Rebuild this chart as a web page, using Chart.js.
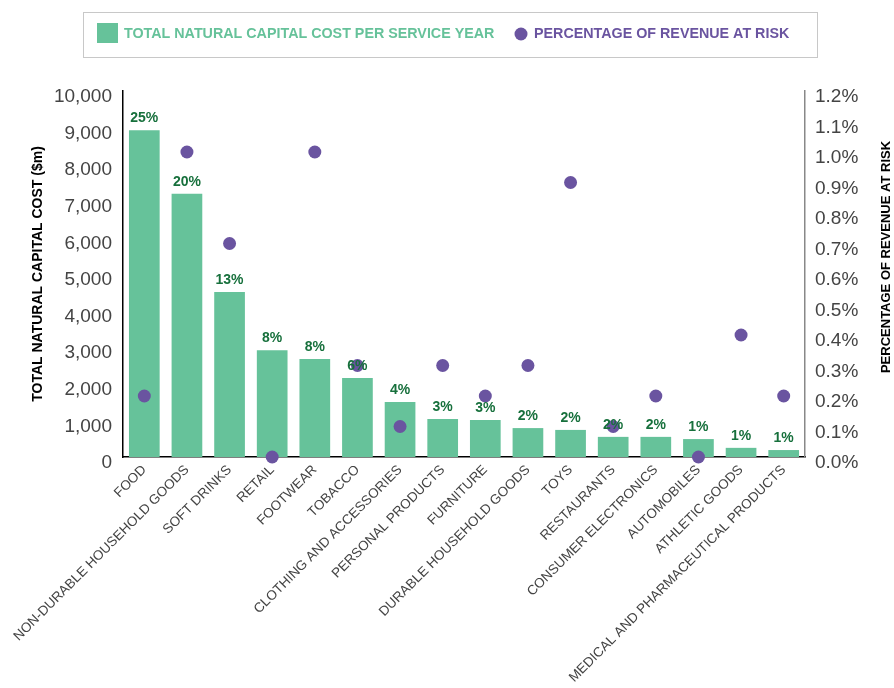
<!DOCTYPE html>
<html>
<head>
<meta charset="utf-8">
<script src="https://cdn.jsdelivr.net/npm/chart.js@4.4.1/dist/chart.umd.min.js"></script>
<style>
  html, body { margin: 0; padding: 0; background: #fff; }
  #wrap { width: 894px; height: 688px; }
</style>
</head>
<body>
<div id="wrap"><canvas id="chart" width="894" height="688"></canvas></div>
<script>
const categories = [
  'FOOD', 'NON-DURABLE HOUSEHOLD GOODS', 'SOFT DRINKS', 'RETAIL', 'FOOTWEAR',
  'TOBACCO', 'CLOTHING AND ACCESSORIES', 'PERSONAL PRODUCTS', 'FURNITURE',
  'DURABLE HOUSEHOLD GOODS', 'TOYS', 'RESTAURANTS', 'CONSUMER ELECTRONICS',
  'AUTOMOBILES', 'ATHLETIC GOODS', 'MEDICAL AND PHARMACEUTICAL PRODUCTS'
];
const naturalCapitalCost = [8930, 7190, 4510, 2920, 2680, 2160, 1500, 1040, 1010, 790, 740, 550, 550, 490, 250, 190];
const costShare = ['25%', '20%', '13%', '8%', '8%', '6%', '4%', '3%', '3%', '2%', '2%', '2%', '2%', '1%', '1%', '1%'];
const revenueAtRisk = [0.2, 1.0, 0.7, 0.0, 1.0, 0.3, 0.1, 0.3, 0.2, 0.3, 0.9, 0.1, 0.2, 0.0, 0.4, 0.2];

const seriesNames = ['TOTAL NATURAL CAPITAL COST PER SERVICE YEAR', 'PERCENTAGE OF REVENUE AT RISK'];
const leftTitle = 'TOTAL NATURAL CAPITAL COST ($m)';
const rightTitle = 'PERCENTAGE OF REVENUE AT RISK';

const GREEN = '#66c29a';
const PURPLE = '#6a54a0';
const LABEL_GREEN = '#17703c';
const FONT = '"Liberation Sans", Arial, Helvetica, sans-serif';

// percentage labels above the bars
const barLabels = {
  id: 'barLabels',
  afterDatasetsDraw(chart) {
    const ctx = chart.ctx;
    const meta = chart.getDatasetMeta(0);
    ctx.save();
    ctx.font = 'bold 14px ' + FONT;
    ctx.fillStyle = LABEL_GREEN;
    ctx.textAlign = 'center';
    ctx.textBaseline = 'bottom';
    meta.data.forEach((bar, i) => {
      ctx.fillText(costShare[i], bar.x, bar.y - 5);
    });
    ctx.restore();
  }
};

// boxed legend and right axis title
const extras = {
  id: 'extras',
  afterDraw(chart) {
    const ctx = chart.ctx;
    ctx.save();
    ctx.strokeStyle = '#c8c8c8';
    ctx.lineWidth = 1;
    ctx.strokeRect(83.5, 12.5, 734, 45);

    ctx.font = 'bold 14.3px ' + FONT;
    ctx.textBaseline = 'middle';
    ctx.textAlign = 'left';
    ctx.fillStyle = GREEN;
    ctx.fillRect(97, 23, 21, 20);
    ctx.fillText(seriesNames[0], 124, 34);

    ctx.fillStyle = PURPLE;
    ctx.beginPath();
    ctx.arc(521, 34, 6.5, 0, Math.PI * 2);
    ctx.fill();
    ctx.fillText(seriesNames[1], 534, 34);

    ctx.translate(886, 257);
    ctx.rotate(-Math.PI / 2);
    ctx.textAlign = 'center';
    ctx.font = 'bold 13px ' + FONT;
    ctx.fillStyle = '#000';
    ctx.fillText(rightTitle, 0, 0);
    ctx.restore();
  }
};

new Chart(document.getElementById('chart'), {
  data: {
    labels: categories,
    datasets: [
      {
        type: 'bar',
        label: seriesNames[0],
        data: naturalCapitalCost,
        backgroundColor: GREEN,
        barPercentage: 0.72,
        categoryPercentage: 1,
        yAxisID: 'y',
        order: 2
      },
      {
        type: 'line',
        label: seriesNames[1],
        data: revenueAtRisk,
        showLine: false,
        pointRadius: 6.5,
        pointHoverRadius: 6.5,
        pointBackgroundColor: PURPLE,
        pointBorderWidth: 0,
        yAxisID: 'y1',
        clip: false,
        order: 1
      }
    ]
  },
  options: {
    responsive: false,
    animation: false,
    devicePixelRatio: 1,
    layout: { padding: { top: 91, left: 0, right: 0, bottom: 0 } },
    plugins: {
      legend: { display: false },
      tooltip: { enabled: false }
    },
    scales: {
      x: {
        grid: { display: false, drawTicks: false },
        border: { display: true, color: '#000', width: 1.5 },
        ticks: {
          autoSkip: false,
          minRotation: 45,
          maxRotation: 45,
          padding: 5,
          color: '#444',
          font: { family: FONT, size: 13.5 }
        },
        afterFit(scale) { scale.height = 231; }
      },
      y: {
        position: 'left',
        min: 0,
        max: 10000,
        grid: { display: false, drawTicks: false },
        border: { display: true, color: '#000', width: 1.5 },
        ticks: {
          stepSize: 1000,
          padding: 11,
          labelOffset: 6,
          color: '#444',
          font: { family: FONT, size: 19 },
          callback: v => v.toLocaleString('en-US')
        },
        title: {
          display: true,
          text: leftTitle,
          color: '#000',
          font: { family: FONT, size: 14, weight: 'bold' },
          padding: { top: 30, bottom: 0 }
        },
        afterFit(scale) { scale.width = 123; }
      },
      y1: {
        position: 'right',
        min: 0,
        max: 1.2,
        grid: { display: false, drawTicks: false },
        border: { display: true, color: '#888', width: 1.5 },
        ticks: {
          stepSize: 0.1,
          padding: 10,
          labelOffset: 6,
          color: '#444',
          font: { family: FONT, size: 19 },
          callback: v => v.toFixed(1) + '%'
        },
        afterFit(scale) { scale.width = 89; }
      }
    }
  },
  plugins: [barLabels, extras]
});
</script>
</body>
</html>
